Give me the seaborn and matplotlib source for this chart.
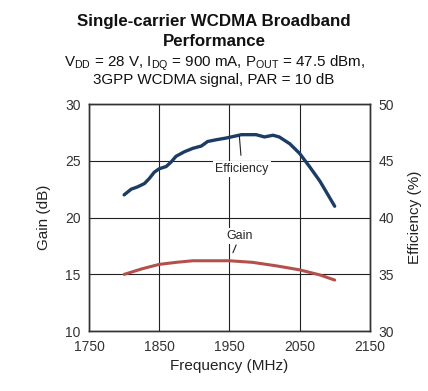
import numpy as np
import pandas as pd
import matplotlib
matplotlib.use("Agg")
import matplotlib.pyplot as plt
import seaborn as sns

# valores
freq_eff = [1800, 1810, 1819, 1829, 1836, 1843, 1850, 1860, 1867, 1874, 1886, 1898,
            1910, 1919, 1931, 1945, 1960, 1967, 1988, 2000, 2012, 2021, 2036, 2050,
            2064, 2079, 2100]
efficiency = [42.0, 42.5, 42.7, 43.0, 43.45, 44.0, 44.3, 44.5, 44.9, 45.4, 45.8, 46.1,
              46.3, 46.7, 46.85, 47.0, 47.2, 47.3, 47.3, 47.1, 47.25, 47.1, 46.5, 45.65,
              44.5, 43.2, 41.0]

freq_gain = [1800, 1826, 1850, 1874, 1898, 1921, 1950, 1983, 2017, 2050, 2079, 2100]
gain = [15.0, 15.5, 15.88, 16.06, 16.2, 16.2, 16.2, 16.06, 15.75, 15.4, 14.95, 14.5]

x_ticks = [1750, 1850, 1950, 2050, 2150]

df_eff = pd.DataFrame({"freq": freq_eff, "eff": efficiency})
df_gain = pd.DataFrame({"freq": freq_gain, "gain": gain})

sns.set_style("white")
plt.rcParams['font.family'] = ['Liberation Sans', 'DejaVu Sans']
plt.rcParams['mathtext.fontset'] = 'custom'
plt.rcParams['mathtext.rm'] = 'Liberation Sans'

fig = plt.figure(figsize=(4.28, 3.91), dpi=100)
ax = fig.add_axes([0.208, 0.153, 0.656, 0.581])

sns.lineplot(data=df_gain, x="freq", y="gain", ax=ax, color="#b4504c", linewidth=2.2)
ax.set_xlim(1750, 2150)
ax.set_ylim(10, 30)
ax.set_xticks(x_ticks)
ax.set_yticks([10, 15, 20, 25, 30])
ax.grid(True, color="#222222", linewidth=0.8)
ax.set_xlabel("Frequency (MHz)", fontsize=11, color="#222222")
ax.set_ylabel("Gain (dB)", fontsize=11, color="#222222", labelpad=10)
ax.tick_params(labelsize=10, colors="#333333", length=0, pad=6)

ax2 = ax.twinx()
sns.lineplot(data=df_eff, x="freq", y="eff", ax=ax2, color="#1d3c64", linewidth=2.4)
ax2.set_ylim(30, 50)
ax2.set_yticks([30, 35, 40, 45, 50])
ax2.set_ylabel("Efficiency (%)", fontsize=11, color="#222222", labelpad=10)
ax2.tick_params(labelsize=10, colors="#333333", length=0, pad=6)
ax2.grid(False)

for a in (ax, ax2):
    for s in a.spines.values():
        s.set_color("#333333")
        s.set_linewidth(1.0)

# rotulos das curvas
ax2.annotate("Efficiency", xy=(1964, 47.3), xytext=(1968, 44.3),
             ha="center", va="center", fontsize=9,
             bbox=dict(boxstyle="square,pad=0.15", fc="white", ec="none"),
             arrowprops=dict(arrowstyle="-", color="#222222", lw=0.8, shrinkA=4, shrinkB=1))
ax.annotate("Gain", xy=(1955, 16.9), xytext=(1965, 18.4),
            ha="center", va="center", fontsize=9,
            bbox=dict(boxstyle="square,pad=0.15", fc="white", ec="none"),
            arrowprops=dict(arrowstyle="-", color="#222222", lw=0.8, shrinkA=1, shrinkB=0))

fig.text(0.5, 0.944, "Single-carrier WCDMA Broadband", ha="center", va="center",
         fontsize=12.2, fontweight="bold", color="#111111")
fig.text(0.5, 0.893, "Performance", ha="center", va="center",
         fontsize=12.2, fontweight="bold", color="#111111")
fig.text(0.5, 0.82,
         r"V$_\mathregular{DD}$ = 28 V, I$_\mathregular{DQ}$ = 900 mA, P$_\mathregular{OUT}$ = 47.5 dBm," + "\n3GPP WCDMA signal, PAR = 10 dB",
         ha="center", va="center", fontsize=10.9, linespacing=1.05, color="#111111")

fig.savefig("out.png", dpi=100)
